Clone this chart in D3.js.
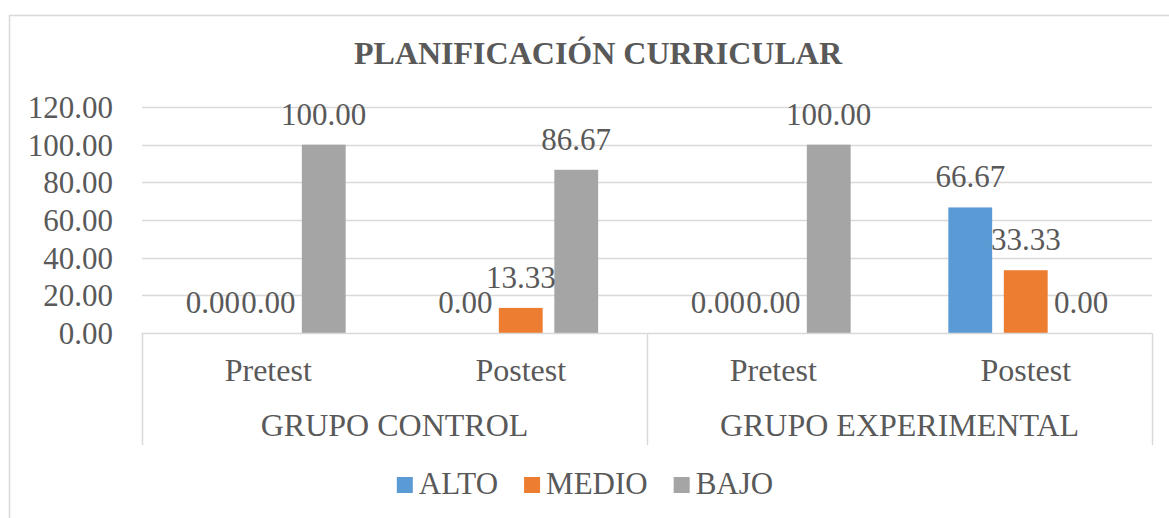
<!DOCTYPE html>
<html>
<head>
<meta charset="utf-8">
<script src="https://cdn.jsdelivr.net/npm/d3@7"></script>
<style>
  html, body { margin: 0; padding: 0; background: #fff; }
  svg { display: block; }
  text { font-family: "Liberation Serif", "Times New Roman", "DejaVu Serif", serif; fill: #595959; }
</style>
</head>
<body>
<svg id="chart" width="1169" height="518"></svg>
<script>
// ---- data ----
const title = "PLANIFICACIÓN CURRICULAR";
const groups = ["GRUPO CONTROL", "GRUPO EXPERIMENTAL"];
const tests = ["Pretest", "Postest"];
const seriesNames = ["ALTO", "MEDIO", "BAJO"];
const seriesColors = ["#5b9bd5", "#ed7d31", "#a5a5a5"];
// values per category (Control-Pretest, Control-Postest, Experimental-Pretest, Experimental-Postest)
const alto  = [0.00, 0.00, 0.00, 66.67];
const medio = [0.00, 13.33, 0.00, 33.33];
const bajo  = [100.00, 86.67, 100.00, 0.00];
const yTicks = [0, 20, 40, 60, 80, 100, 120];

// ---- build ----
const categories = [];
groups.forEach(g => tests.forEach(t => categories.push({group: g, test: t, key: g + "|" + t})));
const seriesValues = [alto, medio, bajo];

const svg = d3.select("#chart");
const plot = {left: 142, right: 1152, top: 107, bottom: 333};
const axisBottom = 445;
const fs = 31;

// outer chart border
svg.append("path")
  .attr("d", `M9.5,518 L9.5,15.5 L1169,15.5`)
  .attr("fill", "none").attr("stroke", "#d9d9d9").attr("stroke-width", 1.5);

// title
svg.append("text")
  .attr("x", 598).attr("y", 64)
  .attr("text-anchor", "middle")
  .style("font-size", "32px").style("font-weight", "bold")
  .text(title);

const y = d3.scaleLinear().domain([0, 120]).range([plot.bottom, plot.top]);
const x0 = d3.scaleBand().domain(categories.map(c => c.key)).range([plot.left, plot.right]).padding(0);
const x1 = d3.scaleBand().domain(seriesNames).range([0, x0.bandwidth()]).paddingInner(0.21).paddingOuter(0.88);

// gridlines
svg.append("g").selectAll("line").data(yTicks.filter(t => t > 0)).join("line")
  .attr("x1", plot.left).attr("x2", plot.right)
  .attr("y1", d => Math.round(y(d)) + 0.5).attr("y2", d => Math.round(y(d)) + 0.5)
  .attr("stroke", "#d9d9d9").attr("stroke-width", 1.5);

// y axis labels
const yAxis = d3.axisLeft(y).tickValues(yTicks).tickFormat(d3.format(".2f")).tickSize(0).tickPadding(0);
const yg = svg.append("g").attr("transform", `translate(113,0)`).call(yAxis);
yg.attr("font-family", null).attr("font-size", null);
yg.select(".domain").remove();
yg.selectAll("text")
  .style("font-size", fs + "px")
  .attr("fill", "#595959").attr("dy", "0.34em");

// bars
const catG = svg.append("g").selectAll("g").data(categories).join("g")
  .attr("transform", d => `translate(${x0(d.key)},0)`);

catG.each(function(c, ci) {
  const g = d3.select(this);
  const data = seriesNames.map((s, si) => ({s, si, v: seriesValues[si][ci]}));
  g.selectAll("rect").data(data).join("rect")
    .attr("x", d => x1(d.s)).attr("width", x1.bandwidth())
    .attr("y", d => y(d.v)).attr("height", d => y(0) - y(d.v))
    .attr("fill", d => seriesColors[d.si]);
});
// labels (drawn after all bars)
catG.each(function(c, ci) {
  const g = d3.select(this);
  const data = seriesNames.map((s, si) => ({s, si, v: seriesValues[si][ci]}));
  g.selectAll("text.lbl").data(data).join("text").attr("class", "lbl")
    .attr("x", d => x1(d.s) + x1.bandwidth() / 2)
    .attr("y", d => y(d.v) - 20)
    .attr("text-anchor", "middle")
    .style("font-size", fs + "px")
    .text(d => d3.format(".2f")(d.v));
});

// category axis box
const axisG = svg.append("g").attr("stroke", "#d9d9d9").attr("stroke-width", 1.5).attr("fill", "none");
axisG.append("line").attr("x1", plot.left).attr("x2", plot.right).attr("y1", plot.bottom + 0.5).attr("y2", plot.bottom + 0.5);
const groupEdges = [plot.left, x0(categories[2].key), plot.right];
axisG.selectAll("line.v").data(groupEdges).join("line").attr("class", "v")
  .attr("x1", d => d + 0.5).attr("x2", d => d + 0.5)
  .attr("y1", plot.bottom).attr("y2", axisBottom);

// test labels
svg.append("g").selectAll("text").data(categories).join("text")
  .attr("x", d => x0(d.key) + x0.bandwidth() / 2)
  .attr("y", 381)
  .attr("text-anchor", "middle")
  .style("font-size", "32px")
  .text(d => d.test);

// group labels
svg.append("g").selectAll("text").data(groups).join("text")
  .attr("x", g => x0(g + "|" + tests[0]) + x0.bandwidth())
  .attr("y", 436)
  .attr("text-anchor", "middle")
  .style("font-size", "32px")
  .text(g => g);

// legend
const legend = svg.append("g");
const items = legend.selectAll("g").data(seriesNames).join("g");
items.append("rect").attr("width", 16).attr("height", 16).attr("y", 477)
  .attr("fill", (d, i) => seriesColors[i]);
items.append("text").attr("x", 22).attr("y", 494).style("font-size", fs + "px").text(d => d);
let widths = [];
items.each(function() { widths.push(d3.select(this).select("text").node().getComputedTextLength() + 22); });
const gap = 26;
const total = d3.sum(widths) + gap * (widths.length - 1);
let cx = 585 - total / 2;
items.each(function(d, i) {
  d3.select(this).attr("transform", `translate(${cx},0)`);
  cx += widths[i] + gap;
});
</script>
</body>
</html>
